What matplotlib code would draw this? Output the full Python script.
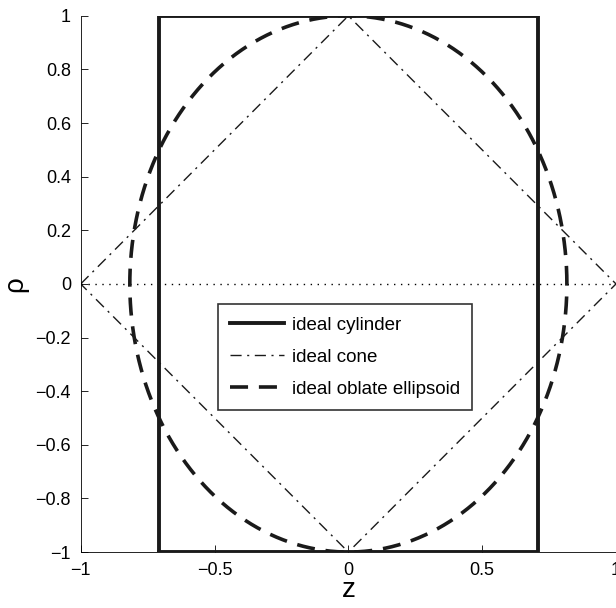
import numpy as np
import matplotlib
matplotlib.use("Agg")
import matplotlib.pyplot as plt

plt.rcParams["font.family"] = ["Liberation Sans", "DejaVu Sans"]

# shape parameters
CYL_HALF_WIDTH = 1 / np.sqrt(2)
CONE_Z = [-1, 0, 1, 0, -1]
CONE_RHO = [0, 1, 0, -1, 0]
ELL_A = np.sqrt(2 / 3)
ELL_B = 1.0
XTICKS = [-1, -0.5, 0, 0.5, 1]
YTICKS = [-1, -0.8, -0.6, -0.4, -0.2, 0, 0.2, 0.4, 0.6, 0.8, 1]

fig = plt.figure(figsize=(6.16, 6.08), dpi=100)
ax = fig.add_axes([0.131, 0.092, 0.869, 0.882])

# dotted axis line
ax.plot([-1, 1], [0, 0], color="black", linestyle=(0, (1, 4)), linewidth=1)

cz = [-CYL_HALF_WIDTH, CYL_HALF_WIDTH, CYL_HALF_WIDTH, -CYL_HALF_WIDTH, -CYL_HALF_WIDTH]
cr = [-1, -1, 1, 1, -1]
ax.plot(cz, cr, color="#1a1a1a", linewidth=2.8, label="ideal cylinder")

ax.plot(CONE_Z, CONE_RHO, color="#1a1a1a", linewidth=1.0,
        linestyle=(0, (8, 4, 1.5, 4)), label="ideal cone")

t = np.linspace(0, 2 * np.pi, 400)
ax.plot(ELL_A * np.cos(t), ELL_B * np.sin(t), color="#1a1a1a", linewidth=2.6,
        linestyle=(0, (5, 3)), label="ideal oblate ellipsoid")

ax.set_xlim(-1, 1)
ax.set_ylim(-1, 1)
ax.set_xticks(XTICKS)
ax.set_xticklabels(["\u22121", "\u22120.5", "0", "0.5", "1"])
ax.set_yticks(YTICKS)
ax.set_yticklabels([("\u2212" + f"{abs(v):g}") if v < 0 else f"{v:g}" for v in YTICKS])
ax.tick_params(direction="in", labelsize=13, length=5, width=0.6, pad=7)
ax.spines["top"].set_visible(False)
ax.spines["right"].set_visible(False)
ax.spines["left"].set_linewidth(0.6)
ax.spines["bottom"].set_linewidth(0.6)
ax.set_xlabel("z", fontsize=20, labelpad=-1)
ax.set_ylabel("\u03c1", fontsize=20, labelpad=5)

leg = ax.legend(loc="upper left", bbox_to_anchor=(0.256, 0.462),
                fontsize=13.5, frameon=True, fancybox=False,
                edgecolor="black", borderpad=0.65, handlelength=2.9,
                handletextpad=0.4, labelspacing=0.8, borderaxespad=0)
leg.get_frame().set_linewidth(1.2)

fig.savefig("out.png", dpi=100)
